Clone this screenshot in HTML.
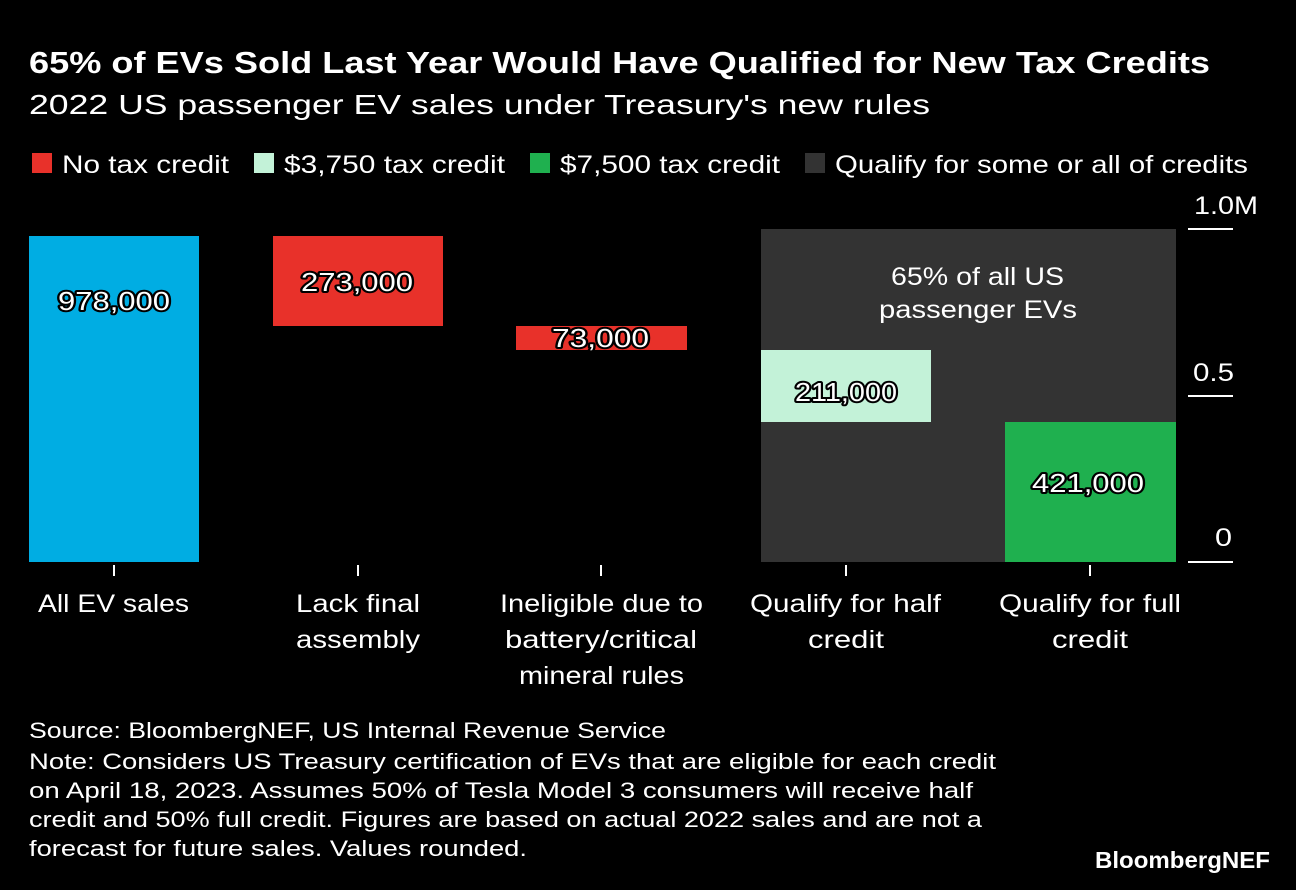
<!DOCTYPE html>
<html><head><meta charset="utf-8"><style>
body{margin:0;background:#000;width:1296px;height:890px;overflow:hidden;font-family:"Liberation Sans",sans-serif;color:#fff}
</style></head><body>
<svg width="1296" height="890" xmlns="http://www.w3.org/2000/svg" style="position:absolute;left:0;top:0">
<text x="29" y="73" font-family="Liberation Sans,sans-serif" font-weight="bold" font-size="31" fill="#fff" textLength="1181" lengthAdjust="spacingAndGlyphs">65% of EVs Sold Last Year Would Have Qualified for New Tax Credits</text>
<text x="29" y="114" font-family="Liberation Sans,sans-serif" font-size="28" fill="#fff" textLength="901" lengthAdjust="spacingAndGlyphs">2022 US passenger EV sales under Treasury's new rules</text>
<g font-family="Liberation Sans,sans-serif" font-size="25" fill="#fff">
<rect x="32" y="153" width="20" height="20" fill="#e8312a"/><text x="62" y="173" textLength="167" lengthAdjust="spacingAndGlyphs">No tax credit</text>
<rect x="254" y="153" width="20" height="20" fill="#c3f2d8"/><text x="284" y="173" textLength="221" lengthAdjust="spacingAndGlyphs">$3,750 tax credit</text>
<rect x="530" y="153" width="20" height="20" fill="#1fb04f"/><text x="560" y="173" textLength="220" lengthAdjust="spacingAndGlyphs">$7,500 tax credit</text>
<rect x="805" y="153" width="20" height="20" fill="#333"/><text x="835" y="173" textLength="413" lengthAdjust="spacingAndGlyphs">Qualify for some or all of credits</text>
</g>
<rect x="761" y="229" width="415" height="333" fill="#333"/>
<rect x="29" y="236" width="170" height="326" fill="#00ade3"/>
<rect x="273" y="236" width="170" height="90" fill="#e8312a"/>
<rect x="516" y="326" width="171" height="24" fill="#e8312a"/>
<rect x="761" y="350" width="170" height="72" fill="#c3f2d8"/>
<rect x="1005" y="422" width="171" height="140" fill="#1fb04f"/>
<g stroke="#fff" stroke-width="2">
<line x1="1188" y1="229" x2="1233" y2="229"/><line x1="1188" y1="396" x2="1233" y2="396"/><line x1="1188" y1="562" x2="1233" y2="562"/>
<line x1="114" y1="565" x2="114" y2="576"/><line x1="358" y1="565" x2="358" y2="576"/><line x1="601" y1="565" x2="601" y2="576"/><line x1="846" y1="565" x2="846" y2="576"/><line x1="1090" y1="565" x2="1090" y2="576"/>
</g>
<g font-family="Liberation Sans,sans-serif" font-size="25" fill="#fff">
<text x="1194" y="214" textLength="64" lengthAdjust="spacingAndGlyphs">1.0M</text><text x="1193" y="381" textLength="41" lengthAdjust="spacingAndGlyphs">0.5</text><text x="1215" y="546" textLength="17" lengthAdjust="spacingAndGlyphs">0</text>
</g>
<g font-family="Liberation Sans,sans-serif" font-size="26" fill="#fff" stroke="#000" stroke-width="4" paint-order="stroke" stroke-linejoin="round">
<text x="58" y="310" textLength="112" lengthAdjust="spacingAndGlyphs">978,000</text>
<text x="301" y="291" textLength="112" lengthAdjust="spacingAndGlyphs">273,000</text>
<text x="552" y="347" textLength="97" lengthAdjust="spacingAndGlyphs">73,000</text>
<text x="795" y="401" textLength="102" lengthAdjust="spacingAndGlyphs">211,000</text>
<text x="1032" y="492" textLength="112" lengthAdjust="spacingAndGlyphs">421,000</text>
</g>
<g font-family="Liberation Sans,sans-serif" font-size="25" fill="#fff">
<text x="891" y="285" textLength="173" lengthAdjust="spacingAndGlyphs">65% of all US</text><text x="879" y="318" textLength="198" lengthAdjust="spacingAndGlyphs">passenger EVs</text>
<text x="38" y="612" textLength="151" lengthAdjust="spacingAndGlyphs">All EV sales</text>
<text x="296" y="612" textLength="124" lengthAdjust="spacingAndGlyphs">Lack final</text><text x="296" y="648" textLength="124" lengthAdjust="spacingAndGlyphs">assembly</text>
<text x="500" y="612" textLength="203" lengthAdjust="spacingAndGlyphs">Ineligible due to</text><text x="505" y="648" textLength="192" lengthAdjust="spacingAndGlyphs">battery/critical</text><text x="519" y="684" textLength="165" lengthAdjust="spacingAndGlyphs">mineral rules</text>
<text x="750" y="612" textLength="191" lengthAdjust="spacingAndGlyphs">Qualify for half</text><text x="808" y="648" textLength="76" lengthAdjust="spacingAndGlyphs">credit</text>
<text x="999" y="612" textLength="182" lengthAdjust="spacingAndGlyphs">Qualify for full</text><text x="1052" y="648" textLength="76" lengthAdjust="spacingAndGlyphs">credit</text>
</g>
<g font-family="Liberation Sans,sans-serif" font-size="22" fill="#fff">
<text x="29" y="738" textLength="637" lengthAdjust="spacingAndGlyphs">Source: BloombergNEF, US Internal Revenue Service</text>
<text x="29" y="769" textLength="967" lengthAdjust="spacingAndGlyphs">Note: Considers US Treasury certification of EVs that are eligible for each credit</text>
<text x="29" y="798" textLength="944" lengthAdjust="spacingAndGlyphs">on April 18, 2023. Assumes 50% of Tesla Model 3 consumers will receive half</text>
<text x="29" y="827" textLength="953" lengthAdjust="spacingAndGlyphs">credit and 50% full credit. Figures are based on actual 2022 sales and are not a</text>
<text x="29" y="856" textLength="498" lengthAdjust="spacingAndGlyphs">forecast for future sales. Values rounded.</text>
</g>
<text x="1095" y="868" font-family="Liberation Sans,sans-serif" font-weight="bold" font-size="23" fill="#fff" textLength="175" lengthAdjust="spacingAndGlyphs">BloombergNEF</text>
</svg>
</body></html>
